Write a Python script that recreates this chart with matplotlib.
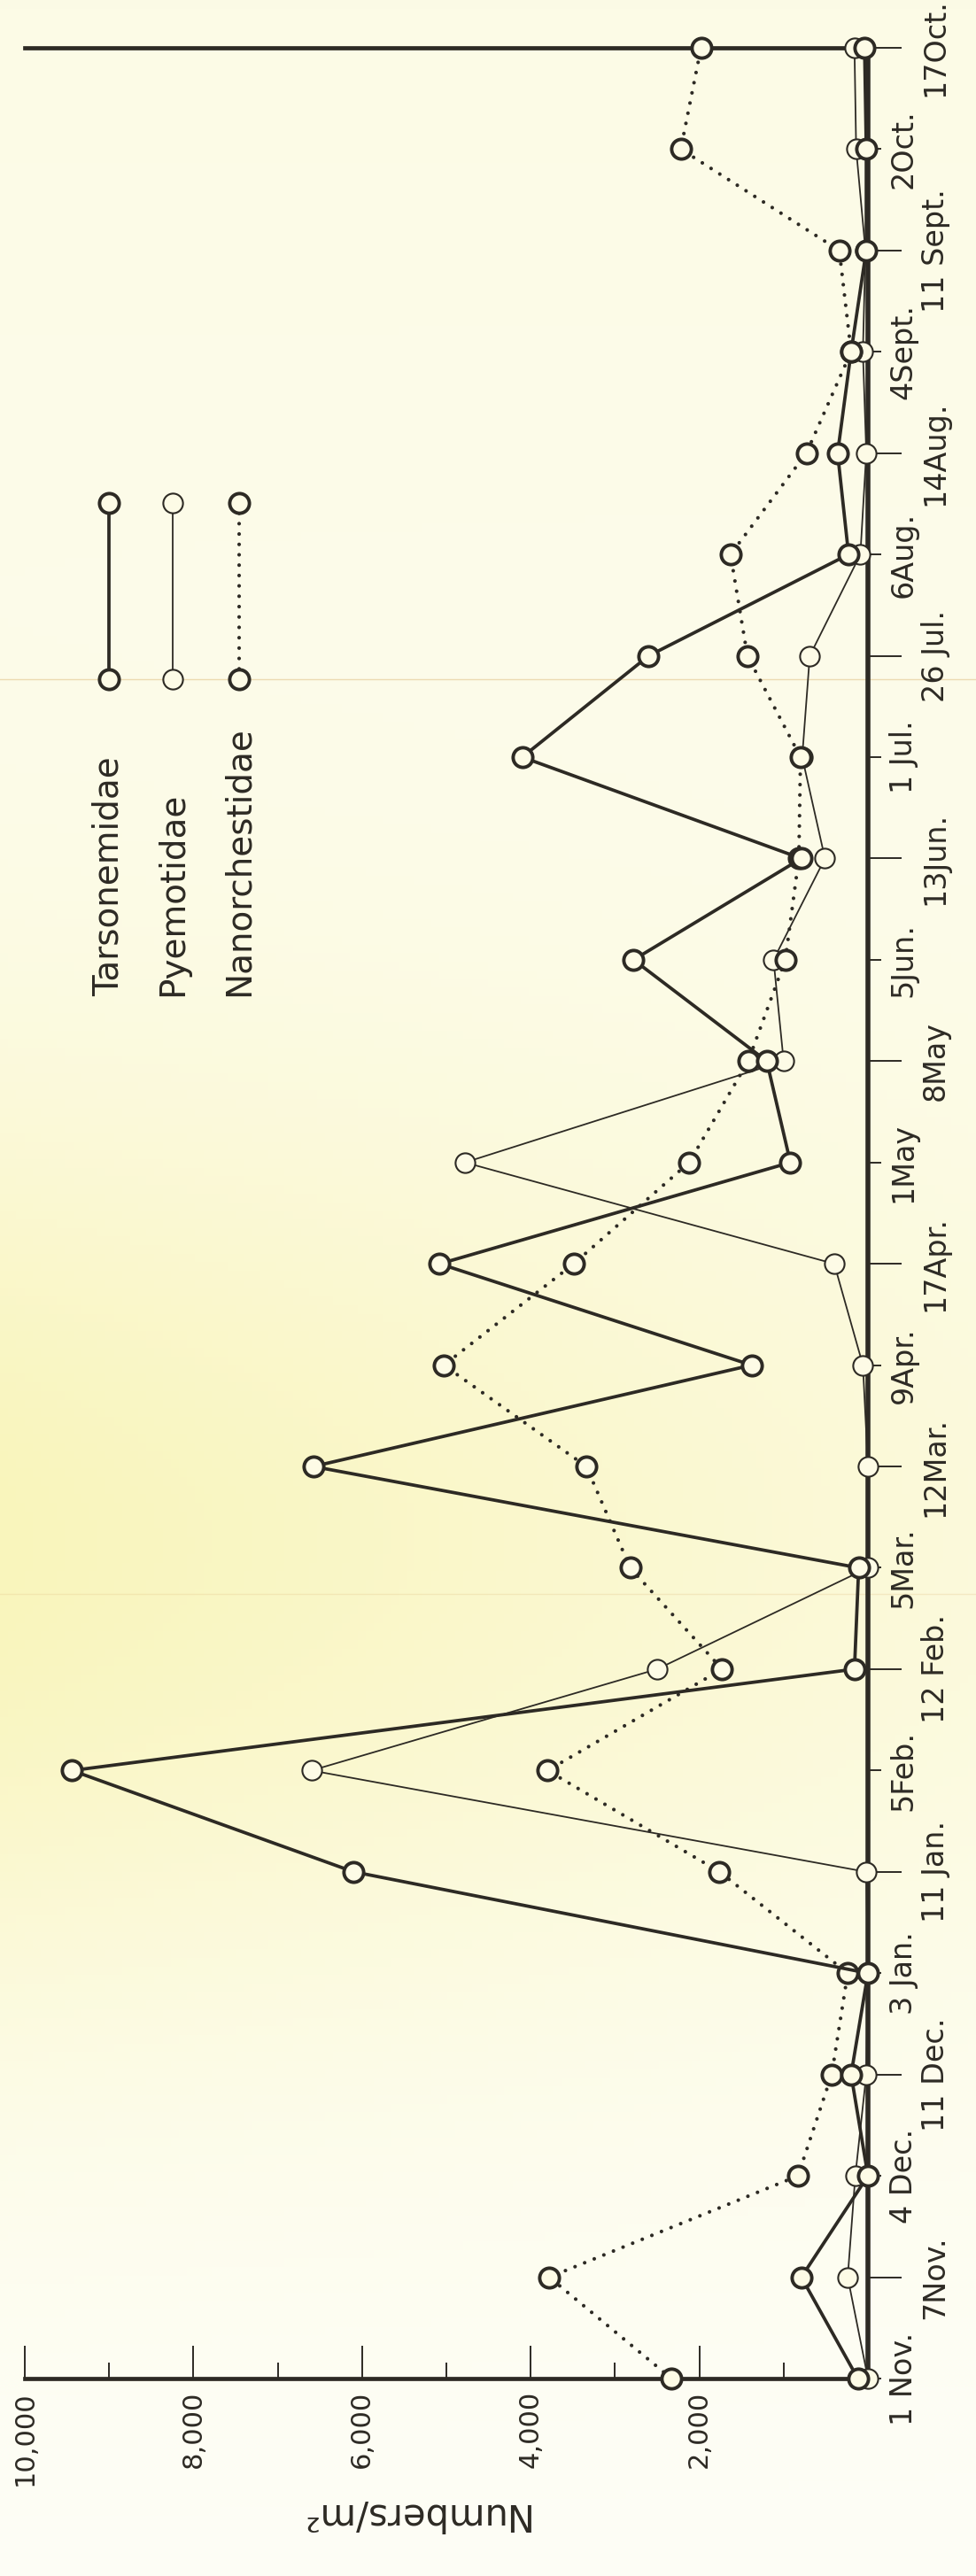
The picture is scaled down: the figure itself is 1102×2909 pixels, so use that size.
import numpy as np
import matplotlib
matplotlib.use('Agg')
import matplotlib.pyplot as plt
from matplotlib.lines import Line2D

# sampling dates (equally spaced on the chart)
dates = ['1 Nov.', '7Nov.', '4 Dec.', '11 Dec.', '3 Jan.', '11 Jan.',
         '5Feb.', '12 Feb.', '5Mar.', '12Mar.', '9Apr.', '17Apr.',
         '1May', '8May', '5Jun.', '13Jun.', '1 Jul.', '26 Jul.',
         '6Aug.', '14Aug.', '4Sept.', '11 Sept.', '2Oct.', '17Oct.']

# numbers / m2
tarsonemidae = [120, 790, 0, 200, 0, 6100, 9440, 160, 110, 6580, 1380, 5080,
                920, 1200, 2780, 790, 4100, 2600, 230, 360, 200, 20, 20, 40]
pyemotidae = [0, 240, 150, 20, 0, 20, 6600, 2500, 0, 0, 60, 400,
              4780, 1000, 1120, 510, 780, 690, 90, 20, 60, 30, 140, 160]
nanorchestidae = [2330, 3780, 830, 430, 240, 1760, 3800, 1730, 2820, 3340, 5030, 3490,
                  2120, 1420, 980, 820, 800, 1430, 1630, 730, 200, 340, 2220, 1980]

num_ticks = [2000, 4000, 6000, 8000, 10000]
num_labels = ['2,000', '4,000', '6,000', '8,000', '10,000']
num_minor = [1000, 3000, 5000, 7000, 9000]

INK = '#2d2a24'
PAPER = '#fdfbe6'
MS = 16

fig = plt.figure(figsize=(11.02, 29.09), dpi=100)

# paper background with the yellowish stain
bg = fig.add_axes([0, 0, 1, 1], zorder=-10)
yy, xx = np.mgrid[0:1:300j, 0:1:120j]
wgt = np.exp(-((yy - 0.6) / 0.18) ** 2) * np.clip(1.0 - 0.6 * xx, 0, 1)
top = np.array([252, 251, 230]) / 255
bot = np.array([254, 254, 246]) / 255
base = top * (1 - yy[..., None]) + bot * yy[..., None]
yel = np.array([249, 245, 188]) / 255
img = base * (1 - wgt[..., None]) + yel * wgt[..., None]
bg.imshow(img, aspect='auto', extent=(0, 1, 0, 1))
bg.axis('off')

# fold marks of the scanned page
for fy, al in [(0.7363, 0.6), (0.3812, 0.3)]:
    fig.add_artist(Line2D([0, 1], [fy, fy], transform=fig.transFigure,
                          color='#e2c48c', lw=1, alpha=al, zorder=-5))

ax = fig.add_axes([0.0254, 0.07666, 0.8639, 0.9048])
ax.set_facecolor('none')
pos = np.arange(len(dates))

ax.plot(pyemotidae, pos, color=INK, lw=1.3, marker='o', ms=MS, mfc=PAPER,
        mec=INK, mew=1.5, clip_on=False, zorder=3)
ax.plot(nanorchestidae, pos, color=INK, lw=3.0, ls=(0, (0.01, 2.8)),
        dash_capstyle='round', marker='o', ms=MS, mfc=PAPER, mec=INK,
        mew=2.8, clip_on=False, zorder=4)
ax.plot(tarsonemidae, pos, color=INK, lw=2.7, marker='o', ms=MS, mfc=PAPER,
        mec=INK, mew=2.8, clip_on=False, zorder=5)

ax.set_xlim(10000, 0)
ax.set_ylim(0, len(dates) - 1)

ax.spines['left'].set_visible(False)
ax.spines['right'].set_linewidth(4.0)
ax.spines['bottom'].set_linewidth(3.4)
ax.spines['top'].set_linewidth(3.4)
for s in ax.spines.values():
    s.set_color(INK)

# numbers axis (bottom)
ax.set_xticks(num_ticks, labels=num_labels)
ax.set_xticks(num_minor, minor=True)
ax.tick_params(axis='x', which='major', direction='in', length=27, width=1.4,
               labelsize=22, labelrotation=90, pad=10, colors=INK)
ax.tick_params(axis='x', which='minor', direction='in', length=13, width=1.4,
               colors=INK)
ax.set_xlabel('Numbers/m²', fontsize=30, rotation=180, color=INK)
ax.xaxis.set_label_coords(0.46, -0.058)
ax.xaxis.label.set_va('center')

# date axis (right), staggered labels
ax.set_yticks(pos[::2], labels=dates[::2])
ax.set_yticks(pos[1::2], labels=dates[1::2], minor=True)
ax.tick_params(axis='y', which='both', left=False, right=True, labelleft=False,
               labelright=True, direction='out', width=1.4, labelrotation=90,
               labelsize=24, colors=INK)
ax.tick_params(axis='y', which='major', length=11, pad=6)
ax.tick_params(axis='y', which='minor', length=27, pad=16)
for lab in ax.get_yticklabels(which='both'):
    lab.set_va('center')

# legend, drawn vertically like the original
legend = [('Tarsonemidae', 0.0998, dict(lw=2.7, ls='-', mew=2.8)),
          ('Pyemotidae', 0.1754, dict(lw=1.3, ls='-', mew=1.5)),
          ('Nanorchestidae', 0.2542, dict(lw=3.0, ls=(0, (0.01, 2.8)), mew=2.8))]
for name, lx, st in legend:
    ax.plot([lx, lx], [0.7291, 0.8047], transform=ax.transAxes, color=INK,
            lw=st['lw'], ls=st['ls'], dash_capstyle='round', marker='o',
            ms=MS, mfc=PAPER, mec=INK, mew=st['mew'], clip_on=False)
    ax.text(lx, 0.5931, name, transform=ax.transAxes, rotation=90,
            rotation_mode='anchor', ha='left', va='center', fontsize=28,
            color=INK)

fig.savefig('out.png', dpi=100)
